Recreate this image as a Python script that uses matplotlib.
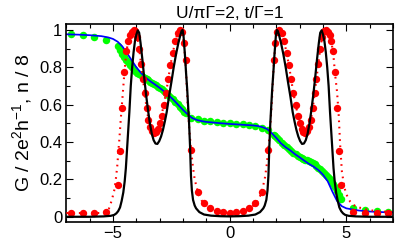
import matplotlib
matplotlib.use("Agg")
import matplotlib.pyplot as plt
from matplotlib.ticker import MultipleLocator

plt.rcParams["font.family"] = ["Liberation Sans", "DejaVu Sans"]
plt.rcParams["mathtext.fontset"] = "custom"
plt.rcParams["mathtext.rm"] = "Liberation Sans"

# shared energy grid of the red / green points
grid_x = [-6.8, -6.3, -5.8, -5.3, -4.78, -4.7, -4.61, -4.52, -4.44, -4.36, -4.28, -4.2, -4.12, -4.04,
          -3.96, -3.88, -3.8, -3.72, -3.64, -3.56, -3.48, -3.4, -3.32, -3.24, -3.16, -3.08, -3.0,
          -2.92, -2.83, -2.73, -2.63, -2.54, -2.44, -2.33, -2.23, -2.13, -2.04, -1.96, -1.88,
          -1.65, -1.37, -1.1, -0.83, -0.55, -0.28, 0.0, 0.28, 0.55, 0.83, 1.1, 1.37, 1.65,
          1.88, 1.96, 2.04, 2.13, 2.23, 2.33, 2.44, 2.54, 2.63, 2.73, 2.83, 2.92, 3.0, 3.08, 3.16,
          3.24, 3.32, 3.4, 3.48, 3.56, 3.64, 3.72, 3.8, 3.88, 3.96, 4.04, 4.12, 4.2, 4.28, 4.36,
          4.44, 4.52, 4.61, 4.7, 4.78, 5.3, 5.8, 6.3, 6.8]

G_red = [0.02, 0.02, 0.02, 0.025, 0.17, 0.35, 0.58, 0.775, 0.885, 0.94, 0.975, 0.99, 1.0, 0.995,
         0.96, 0.9, 0.82, 0.74, 0.66, 0.58, 0.52, 0.48, 0.46, 0.45, 0.455, 0.47, 0.5,
         0.54, 0.6, 0.66, 0.74, 0.81, 0.877, 0.94, 0.985, 1.0, 0.99, 0.93, 0.84,
         0.355, 0.135, 0.072, 0.045, 0.03, 0.025, 0.022, 0.025, 0.03, 0.045, 0.072, 0.135, 0.355,
         0.84, 0.93, 0.99, 1.0, 0.985, 0.94, 0.877, 0.81, 0.74, 0.66, 0.6, 0.54, 0.5, 0.47, 0.455,
         0.45, 0.46, 0.48, 0.52, 0.58, 0.66, 0.74, 0.82, 0.9, 0.96, 0.995, 1.0, 0.99, 0.975, 0.94,
         0.885, 0.775, 0.58, 0.35, 0.17, 0.025, 0.02, 0.02, 0.02]

n_green = [0.976, 0.971, 0.963, 0.948, 0.912, 0.893, 0.872, 0.855, 0.84, 0.826, 0.813, 0.801, 0.79, 0.78,
           0.772, 0.764, 0.757, 0.75, 0.743, 0.736, 0.73, 0.724, 0.717, 0.71, 0.703, 0.696, 0.689,
           0.682, 0.673, 0.663, 0.652, 0.642, 0.63, 0.616, 0.602, 0.588, 0.575, 0.563, 0.553,
           0.53, 0.521, 0.515, 0.511, 0.506, 0.503, 0.5, 0.497, 0.494, 0.489, 0.484, 0.477, 0.465,
           0.44, 0.43, 0.42, 0.41, 0.397, 0.386, 0.373, 0.362, 0.353, 0.343, 0.334, 0.326, 0.32, 0.315, 0.31,
           0.306, 0.302, 0.298, 0.293, 0.287, 0.28, 0.272, 0.263, 0.254, 0.245, 0.236, 0.226, 0.215, 0.203, 0.19,
           0.175, 0.16, 0.14, 0.115, 0.095, 0.045, 0.034, 0.03, 0.027]

# red dotted curve
dot_x = [-7.0, -6.0, -5.5, -5.3, -5.17, -5.05, -4.95, -4.88, -4.82, -4.77, -4.72, -4.67, -4.6, -4.52,
         -4.44, -4.36, -4.28, -4.2, -4.12, -4.04, -3.96, -3.88, -3.8, -3.72, -3.64, -3.56, -3.48, -3.4,
         -3.32, -3.24, -3.16, -3.08, -3.0, -2.92, -2.83, -2.73, -2.63, -2.54, -2.44, -2.33, -2.23,
         -2.13, -2.04, -1.96, -1.88, -1.8, -1.72, -1.65, -1.58, -1.5, -1.4, -1.3, -1.15, -1.0, -0.8,
         -0.5, 0.0, 0.5, 0.8, 1.0, 1.15, 1.3, 1.4, 1.5, 1.58, 1.65, 1.72, 1.8, 1.88, 1.96, 2.04, 2.13,
         2.23, 2.33, 2.44, 2.54, 2.63, 2.73, 2.83, 2.92, 3.0, 3.08, 3.16, 3.24, 3.32, 3.4, 3.48, 3.56,
         3.64, 3.72, 3.8, 3.88, 3.96, 4.04, 4.12, 4.2, 4.28, 4.36, 4.44, 4.52, 4.6, 4.67, 4.74, 4.81,
         4.9, 4.96, 5.07, 5.17, 5.35, 5.53, 6.0, 6.5, 7.0]
dot_G = [0.02, 0.02, 0.02, 0.025, 0.045, 0.09, 0.14, 0.2, 0.27, 0.35, 0.43, 0.52, 0.63, 0.76,
         0.87, 0.935, 0.97, 0.99, 1.0, 0.995, 0.96, 0.9, 0.82, 0.74, 0.66, 0.58, 0.52, 0.48,
         0.46, 0.45, 0.455, 0.47, 0.5, 0.54, 0.6, 0.66, 0.74, 0.81, 0.877, 0.94, 0.985,
         1.0, 0.99, 0.93, 0.8, 0.6, 0.45, 0.355, 0.27, 0.2, 0.15, 0.11, 0.075, 0.058, 0.043,
         0.03, 0.022, 0.03, 0.043, 0.058, 0.075, 0.11, 0.15, 0.2, 0.27, 0.355, 0.45, 0.6, 0.8, 0.93, 0.99, 1.0,
         0.985, 0.94, 0.877, 0.81, 0.74, 0.66, 0.6, 0.54, 0.5, 0.47, 0.455, 0.45, 0.46, 0.48, 0.52, 0.58,
         0.66, 0.74, 0.82, 0.9, 0.96, 0.995, 1.0, 0.99, 0.97, 0.935, 0.87, 0.76, 0.67, 0.55, 0.37, 0.24,
         0.17, 0.135, 0.1, 0.08, 0.06, 0.05, 0.035, 0.028, 0.025]

# black solid curve
blk_x = [-7.0, -6.0, -5.4, -5.1, -4.95, -4.86, -4.78, -4.7, -4.63, -4.56, -4.5, -4.45, -4.4, -4.35,
         -4.3, -4.24, -4.18, -4.12, -4.06, -4.0, -3.94, -3.88, -3.82, -3.74, -3.66, -3.58, -3.5, -3.42,
         -3.34, -3.26, -3.18, -3.1, -3.02, -2.94, -2.86, -2.78, -2.7, -2.6, -2.5, -2.4, -2.3, -2.2,
         -2.12, -2.06, -2.02, -1.98, -1.92, -1.87, -1.82, -1.78, -1.74, -1.7, -1.66, -1.62, -1.57,
         -1.5, -1.44, -1.3, -1.1, -0.8, -0.4, 0.0, 0.4, 0.8, 1.1, 1.3, 1.44, 1.5, 1.57, 1.62, 1.66,
         1.7, 1.74, 1.78, 1.82, 1.87, 1.92, 1.98, 2.02, 2.06, 2.12, 2.2, 2.3, 2.4, 2.5, 2.6, 2.7,
         2.78, 2.86, 2.94, 3.02, 3.1, 3.18, 3.26, 3.34, 3.42, 3.5, 3.58, 3.66, 3.74, 3.82, 3.88,
         3.94, 4.0, 4.06, 4.12, 4.18, 4.24, 4.3, 4.35, 4.4, 4.45, 4.5, 4.56, 4.63, 4.7, 4.78, 4.86,
         4.95, 5.1, 5.4, 6.0, 7.0]
blk_G = [0.0, 0.0, 0.002, 0.005, 0.01, 0.018, 0.03, 0.05, 0.085, 0.13, 0.19, 0.26, 0.36, 0.46,
         0.56, 0.7, 0.8, 0.88, 0.94, 0.975, 0.998, 0.985, 0.93, 0.84, 0.74, 0.65, 0.57, 0.5,
         0.445, 0.41, 0.392, 0.39, 0.405, 0.43, 0.465, 0.51, 0.56, 0.645, 0.72, 0.8, 0.87, 0.93,
         0.97, 0.995, 1.0, 0.97, 0.87, 0.77, 0.68, 0.59, 0.5, 0.38, 0.22, 0.14, 0.09,
         0.06, 0.045, 0.025, 0.012, 0.006, 0.003, 0.002, 0.003, 0.006, 0.012, 0.025, 0.045, 0.06, 0.09, 0.14, 0.22,
         0.38, 0.5, 0.59, 0.68, 0.77, 0.87, 0.97, 1.0, 0.995, 0.97, 0.93, 0.87, 0.8, 0.72, 0.645, 0.56,
         0.51, 0.465, 0.43, 0.405, 0.39, 0.392, 0.41, 0.445, 0.5, 0.57, 0.65, 0.74, 0.84, 0.93, 0.985,
         0.998, 0.975, 0.94, 0.88, 0.8, 0.7, 0.56, 0.46, 0.36, 0.26, 0.19, 0.13, 0.085, 0.05, 0.03, 0.018,
         0.01, 0.005, 0.002, 0.0, 0.0]

# blue solid curve (n / 8)
blue_x = [-7.0, -6.5, -6.0, -5.5, -5.2, -5.0, -4.8, -4.6, -4.4, -4.2, -4.0, -3.8, -3.6, -3.4, -3.2,
          -3.0, -2.8, -2.6, -2.4, -2.2, -2.0, -1.8, -1.6, -1.4, -1.2, -1.0, -0.5, 0.0, 0.5, 1.0,
          1.2, 1.4, 1.6, 1.8, 2.0, 2.2, 2.4, 2.6, 2.8, 3.0, 3.2, 3.4, 3.6, 3.8, 4.0, 4.2, 4.4, 4.6,
          4.8, 5.0, 5.5, 6.0, 6.5, 7.0]
blue_n = [0.977, 0.975, 0.972, 0.967, 0.96, 0.952, 0.937, 0.912, 0.876, 0.838, 0.8, 0.77, 0.745, 0.725, 0.708,
          0.69, 0.67, 0.648, 0.625, 0.598, 0.572, 0.548, 0.528, 0.518, 0.512, 0.508, 0.502, 0.497, 0.493, 0.489,
          0.486, 0.48, 0.47, 0.448, 0.422, 0.393, 0.372, 0.355, 0.335, 0.318, 0.3, 0.283, 0.268, 0.25, 0.225,
          0.19, 0.135, 0.085, 0.057, 0.045, 0.034, 0.028, 0.025, 0.023]

fig = plt.figure(figsize=(3.95, 2.4), dpi=100)
ax = fig.add_axes([0.168, 0.075, 0.827, 0.825])

ax.plot(grid_x, n_green, "o", color="#00ff00", ms=5.4, mec="none", zorder=1)
ax.plot(blue_x, blue_n, "-", color="#0000ff", lw=1.25, zorder=2)
ax.plot(dot_x, dot_G, color="#ff0000", lw=1.5, ls=(0, (0.8, 2.2)), zorder=3)
ax.plot(grid_x, G_red, "o", color="#ff0000", ms=5.3, mec="none", zorder=4)
ax.plot(blk_x, blk_G, "-", color="black", lw=1.6, zorder=5)

ax.set_xlim(-7, 7)
ax.set_ylim(-0.028, 1.032)
ax.xaxis.set_major_locator(MultipleLocator(5))
ax.xaxis.set_minor_locator(MultipleLocator(1))
ax.yaxis.set_major_locator(MultipleLocator(0.2))
ax.yaxis.set_minor_locator(MultipleLocator(0.1))
ax.set_yticks([0, 0.2, 0.4, 0.6, 0.8, 1.0], ["0", "0.2", "0.4", "0.6", "0.8", "1"])
ax.tick_params(which="both", direction="in", top=True, right=True, labelsize=12, width=0.8)
ax.tick_params(which="major", length=5, pad=3)
ax.tick_params(which="minor", length=3)
for s in ax.spines.values():
    s.set_linewidth(1.2)

ax.set_title("U/\u03c0\u0393=2, t/\u0393=1", fontsize=12.5, pad=4)
ax.set_ylabel(r"G / 2e$^{\rm 2}$h$^{{-}\rm 1}$, n / 8", fontsize=14, labelpad=3)

fig.savefig("out.png", dpi=100)
